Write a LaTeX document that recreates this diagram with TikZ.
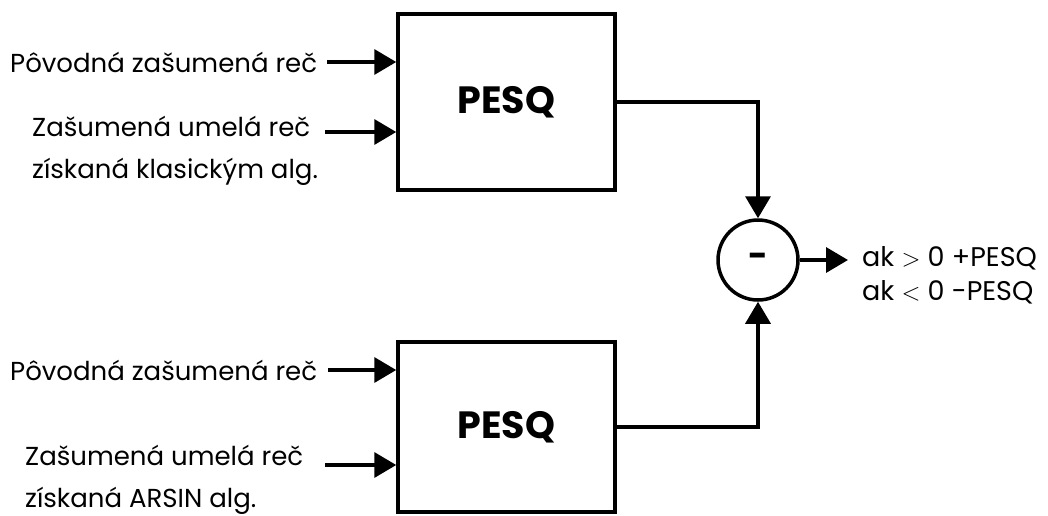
\documentclass[tikz,border=0pt]{standalone}
\usepackage{fontspec}
\setmainfont{Poppins}
\usetikzlibrary{arrows.meta}
\begin{document}
\begin{tikzpicture}[x=1pt,y=-1pt,
  box/.style={draw,line width=3.5pt,minimum width=217pt,minimum height=176pt,inner sep=0pt,font=\fontsize{38}{44}\selectfont\bfseries},
  lbl/.style={inner sep=0pt,anchor=west,align=left,font=\fontsize{26}{42}\selectfont},
  arr/.style={line width=3.5pt,-{Triangle[length=22pt,width=25pt]}},
  wire/.style={line width=3.5pt}]
\path[use as bounding box] (0,0) rectangle (1048,515);
% blocks
\node[box] (b1) at (506.5,102) {PESQ};
\node[box,minimum height=170pt] (b2) at (506.5,427) {PESQ};
\node[draw,circle,line width=3.5pt,minimum size=80pt,inner sep=0pt,font=\fontsize{34}{40}\selectfont\bfseries] (c) at (758,260) {-};
% labels
\node[lbl] (t1) at (10,62) {Pôvodná zašumená reč};
\node[lbl] (t2) at (32,151) {Zašumená umelá reč\\získaná klasickým alg.};
\node[lbl] (t3) at (10,370) {Pôvodná zašumená reč};
\node[lbl] (t4) at (25,480) {Zašumená umelá reč\\získaná ARSIN alg.};
\node[lbl,font=\fontsize{27}{34}\selectfont] (out) at (862,275) {ak $>$ 0 +PESQ\\ak $<$ 0 -PESQ};
% arrow start/end points
\coordinate (s1) at (327,62);
\coordinate (s2) at (325,132);
\coordinate (s3) at (328,370);
\coordinate (s4) at (325,465);
\coordinate (o) at (848,260);
% connectors
\draw[arr] (s1) -- (s1 -| b1.west);
\draw[arr] (s2) -- (s2 -| b1.west);
\draw[arr] (s3) -- (s3 -| b2.west);
\draw[arr] (s4) -- (s4 -| b2.west);
\draw[arr] (b1.east) -| (c.north);
\draw[arr] (b2.east) -| (c.south);
\draw[arr] (c.east) -- (o);
\end{tikzpicture}
\end{document}
